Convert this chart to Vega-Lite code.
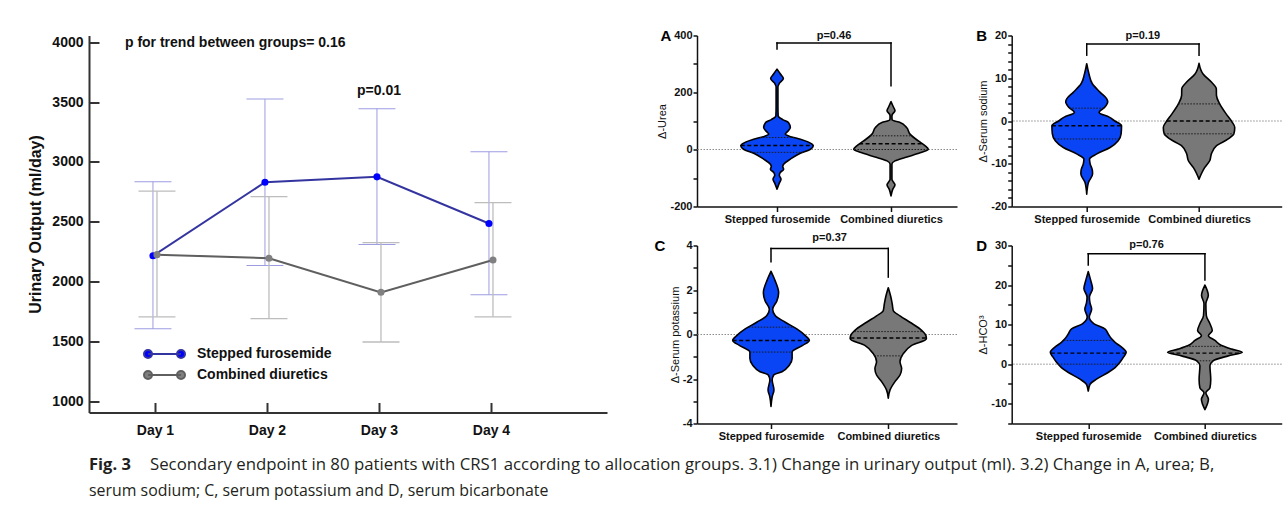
{
"$schema": "https://vega.github.io/schema/vega-lite/v6.json",
"background": "white",
"padding": {"left": 25, "top": 28.5, "right": 2, "bottom": 2},
"config": {"view": {"stroke": null}, "axis": {"grid": false, "labelFlush": false, "labelOverlap": false}},
"datasets": {
"uo": [
{"day":1,"group":"Stepped furosemide","mean":2215,"lo":1605,"hi":2835},
{"day":2,"group":"Stepped furosemide","mean":2830,"lo":2135,"hi":3525},
{"day":3,"group":"Stepped furosemide","mean":2875,"lo":2310,"hi":3445},
{"day":4,"group":"Stepped furosemide","mean":2485,"lo":1890,"hi":3085},
{"day":1,"group":"Combined diuretics","mean":2225,"lo":1705,"hi":2755},
{"day":2,"group":"Combined diuretics","mean":2195,"lo":1690,"hi":2710},
{"day":3,"group":"Combined diuretics","mean":1910,"lo":1495,"hi":2325},
{"day":4,"group":"Combined diuretics","mean":2180,"lo":1705,"hi":2660}
],
"violin": [
{"p":"A","g":"S","v":282,"lo":1,"hi":1},
{"p":"A","g":"S","v":265,"lo":0.97,"hi":1.03},
{"p":"A","g":"S","v":249,"lo":0.944,"hi":1.056},
{"p":"A","g":"S","v":232,"lo":0.98,"hi":1.02},
{"p":"A","g":"S","v":220,"lo":0.992,"hi":1.008},
{"p":"A","g":"S","v":150,"lo":0.992,"hi":1.008},
{"p":"A","g":"S","v":118,"lo":0.99,"hi":1.01},
{"p":"A","g":"S","v":105,"lo":0.95,"hi":1.05},
{"p":"A","g":"S","v":95,"lo":0.9,"hi":1.1},
{"p":"A","g":"S","v":77,"lo":0.883,"hi":1.117},
{"p":"A","g":"S","v":62,"lo":0.91,"hi":1.09},
{"p":"A","g":"S","v":54,"lo":0.927,"hi":1.073},
{"p":"A","g":"S","v":45,"lo":0.88,"hi":1.12},
{"p":"A","g":"S","v":36,"lo":0.795,"hi":1.205},
{"p":"A","g":"S","v":19,"lo":0.693,"hi":1.307},
{"p":"A","g":"S","v":13,"lo":0.682,"hi":1.318},
{"p":"A","g":"S","v":0,"lo":0.71,"hi":1.29},
{"p":"A","g":"S","v":-14,"lo":0.8,"hi":1.2},
{"p":"A","g":"S","v":-34,"lo":0.883,"hi":1.117},
{"p":"A","g":"S","v":-51,"lo":0.94,"hi":1.06},
{"p":"A","g":"S","v":-60,"lo":0.95,"hi":1.05},
{"p":"A","g":"S","v":-69,"lo":0.942,"hi":1.058},
{"p":"A","g":"S","v":-80,"lo":0.97,"hi":1.03},
{"p":"A","g":"S","v":-90,"lo":0.98,"hi":1.02},
{"p":"A","g":"S","v":-104,"lo":0.965,"hi":1.035},
{"p":"A","g":"S","v":-118,"lo":0.98,"hi":1.02},
{"p":"A","g":"S","v":-139,"lo":1,"hi":1},
{"p":"A","g":"C","v":168,"lo":2,"hi":2},
{"p":"A","g":"C","v":150,"lo":1.98,"hi":2.02},
{"p":"A","g":"C","v":136,"lo":1.965,"hi":2.035},
{"p":"A","g":"C","v":122,"lo":1.99,"hi":2.01},
{"p":"A","g":"C","v":115,"lo":1.992,"hi":2.008},
{"p":"A","g":"C","v":104,"lo":1.99,"hi":2.01},
{"p":"A","g":"C","v":95,"lo":1.92,"hi":2.08},
{"p":"A","g":"C","v":77,"lo":1.863,"hi":2.137},
{"p":"A","g":"C","v":54,"lo":1.833,"hi":2.167},
{"p":"A","g":"C","v":30,"lo":1.76,"hi":2.24},
{"p":"A","g":"C","v":13,"lo":1.7,"hi":2.3},
{"p":"A","g":"C","v":1,"lo":1.673,"hi":2.327},
{"p":"A","g":"C","v":-10,"lo":1.73,"hi":2.27},
{"p":"A","g":"C","v":-28,"lo":1.877,"hi":2.123},
{"p":"A","g":"C","v":-40,"lo":1.965,"hi":2.035},
{"p":"A","g":"C","v":-51,"lo":1.992,"hi":2.008},
{"p":"A","g":"C","v":-104,"lo":1.992,"hi":2.008},
{"p":"A","g":"C","v":-114,"lo":1.98,"hi":2.02},
{"p":"A","g":"C","v":-124,"lo":1.965,"hi":2.035},
{"p":"A","g":"C","v":-140,"lo":1.985,"hi":2.015},
{"p":"A","g":"C","v":-163,"lo":2,"hi":2},
{"p":"B","g":"S","v":13.4,"lo":1,"hi":1},
{"p":"B","g":"S","v":11,"lo":0.98,"hi":1.02},
{"p":"B","g":"S","v":8.7,"lo":0.95,"hi":1.05},
{"p":"B","g":"S","v":6.7,"lo":0.88,"hi":1.12},
{"p":"B","g":"S","v":5.2,"lo":0.822,"hi":1.178},
{"p":"B","g":"S","v":4.5,"lo":0.813,"hi":1.187},
{"p":"B","g":"S","v":3.2,"lo":0.84,"hi":1.16},
{"p":"B","g":"S","v":2.0,"lo":0.89,"hi":1.11},
{"p":"B","g":"S","v":0.9,"lo":0.8,"hi":1.2},
{"p":"B","g":"S","v":0,"lo":0.75,"hi":1.25},
{"p":"B","g":"S","v":-1.1,"lo":0.69,"hi":1.31},
{"p":"B","g":"S","v":-3,"lo":0.694,"hi":1.306},
{"p":"B","g":"S","v":-4.6,"lo":0.72,"hi":1.28},
{"p":"B","g":"S","v":-6.2,"lo":0.792,"hi":1.208},
{"p":"B","g":"S","v":-7.7,"lo":0.91,"hi":1.09},
{"p":"B","g":"S","v":-8.9,"lo":0.975,"hi":1.025},
{"p":"B","g":"S","v":-10,"lo":0.97,"hi":1.03},
{"p":"B","g":"S","v":-11.5,"lo":0.95,"hi":1.05},
{"p":"B","g":"S","v":-12.4,"lo":0.948,"hi":1.052},
{"p":"B","g":"S","v":-14.4,"lo":0.985,"hi":1.015},
{"p":"B","g":"S","v":-17.1,"lo":1,"hi":1},
{"p":"B","g":"C","v":13.5,"lo":2,"hi":2},
{"p":"B","g":"C","v":11,"lo":1.964,"hi":2.036},
{"p":"B","g":"C","v":9.1,"lo":1.89,"hi":2.11},
{"p":"B","g":"C","v":7.5,"lo":1.846,"hi":2.154},
{"p":"B","g":"C","v":6.0,"lo":1.845,"hi":2.155},
{"p":"B","g":"C","v":4.0,"lo":1.816,"hi":2.184},
{"p":"B","g":"C","v":1.6,"lo":1.757,"hi":2.243},
{"p":"B","g":"C","v":0,"lo":1.712,"hi":2.288},
{"p":"B","g":"C","v":-1.5,"lo":1.682,"hi":2.318},
{"p":"B","g":"C","v":-3,"lo":1.69,"hi":2.31},
{"p":"B","g":"C","v":-4.2,"lo":1.74,"hi":2.26},
{"p":"B","g":"C","v":-5.8,"lo":1.846,"hi":2.154},
{"p":"B","g":"C","v":-7.7,"lo":1.89,"hi":2.11},
{"p":"B","g":"C","v":-9.3,"lo":1.905,"hi":2.095},
{"p":"B","g":"C","v":-10.9,"lo":1.95,"hi":2.05},
{"p":"B","g":"C","v":-13.6,"lo":2,"hi":2},
{"p":"C","g":"S","v":2.84,"lo":1,"hi":1},
{"p":"C","g":"S","v":2.47,"lo":0.969,"hi":1.031},
{"p":"C","g":"S","v":1.88,"lo":0.935,"hi":1.065},
{"p":"C","g":"S","v":1.51,"lo":0.95,"hi":1.05},
{"p":"C","g":"S","v":1.14,"lo":0.986,"hi":1.014},
{"p":"C","g":"S","v":0.84,"lo":0.963,"hi":1.037},
{"p":"C","g":"S","v":0.55,"lo":0.878,"hi":1.122},
{"p":"C","g":"S","v":0.25,"lo":0.78,"hi":1.22},
{"p":"C","g":"S","v":-0.04,"lo":0.71,"hi":1.29},
{"p":"C","g":"S","v":-0.27,"lo":0.673,"hi":1.327},
{"p":"C","g":"S","v":-0.49,"lo":0.73,"hi":1.27},
{"p":"C","g":"S","v":-0.79,"lo":0.82,"hi":1.18},
{"p":"C","g":"S","v":-1.08,"lo":0.82,"hi":1.18},
{"p":"C","g":"S","v":-1.38,"lo":0.844,"hi":1.156},
{"p":"C","g":"S","v":-1.67,"lo":0.906,"hi":1.094},
{"p":"C","g":"S","v":-1.82,"lo":0.977,"hi":1.023},
{"p":"C","g":"S","v":-2.04,"lo":0.99,"hi":1.01},
{"p":"C","g":"S","v":-2.49,"lo":0.975,"hi":1.025},
{"p":"C","g":"S","v":-2.8,"lo":0.99,"hi":1.01},
{"p":"C","g":"S","v":-3.23,"lo":1,"hi":1},
{"p":"C","g":"C","v":2.1,"lo":2,"hi":2},
{"p":"C","g":"C","v":1.73,"lo":1.98,"hi":2.02},
{"p":"C","g":"C","v":1.36,"lo":1.966,"hi":2.034},
{"p":"C","g":"C","v":1.07,"lo":1.957,"hi":2.043},
{"p":"C","g":"C","v":0.84,"lo":1.9,"hi":2.1},
{"p":"C","g":"C","v":0.55,"lo":1.815,"hi":2.185},
{"p":"C","g":"C","v":0.25,"lo":1.73,"hi":2.27},
{"p":"C","g":"C","v":-0.04,"lo":1.68,"hi":2.32},
{"p":"C","g":"C","v":-0.19,"lo":1.675,"hi":2.325},
{"p":"C","g":"C","v":-0.49,"lo":1.8,"hi":2.2},
{"p":"C","g":"C","v":-0.86,"lo":1.872,"hi":2.128},
{"p":"C","g":"C","v":-1.23,"lo":1.9,"hi":2.1},
{"p":"C","g":"C","v":-1.53,"lo":1.886,"hi":2.114},
{"p":"C","g":"C","v":-1.82,"lo":1.9,"hi":2.1},
{"p":"C","g":"C","v":-2.12,"lo":1.943,"hi":2.057},
{"p":"C","g":"C","v":-2.49,"lo":1.985,"hi":2.015},
{"p":"C","g":"C","v":-2.86,"lo":2,"hi":2},
{"p":"D","g":"S","v":23.4,"lo":1,"hi":1},
{"p":"D","g":"S","v":21.3,"lo":0.98,"hi":1.02},
{"p":"D","g":"S","v":19.1,"lo":0.963,"hi":1.037},
{"p":"D","g":"S","v":17,"lo":0.99,"hi":1.01},
{"p":"D","g":"S","v":15.5,"lo":0.985,"hi":1.015},
{"p":"D","g":"S","v":13.9,"lo":0.971,"hi":1.029},
{"p":"D","g":"S","v":11.9,"lo":0.991,"hi":1.009},
{"p":"D","g":"S","v":10.2,"lo":0.95,"hi":1.05},
{"p":"D","g":"S","v":8.9,"lo":0.857,"hi":1.143},
{"p":"D","g":"S","v":7.7,"lo":0.83,"hi":1.17},
{"p":"D","g":"S","v":6.4,"lo":0.8,"hi":1.2},
{"p":"D","g":"S","v":5.5,"lo":0.77,"hi":1.23},
{"p":"D","g":"S","v":4.3,"lo":0.714,"hi":1.286},
{"p":"D","g":"S","v":3.0,"lo":0.675,"hi":1.325},
{"p":"D","g":"S","v":1.7,"lo":0.7,"hi":1.3},
{"p":"D","g":"S","v":0.4,"lo":0.73,"hi":1.27},
{"p":"D","g":"S","v":-0.85,"lo":0.77,"hi":1.23},
{"p":"D","g":"S","v":-2.1,"lo":0.83,"hi":1.17},
{"p":"D","g":"S","v":-3.8,"lo":0.93,"hi":1.07},
{"p":"D","g":"S","v":-5.1,"lo":0.985,"hi":1.015},
{"p":"D","g":"S","v":-6.8,"lo":1,"hi":1},
{"p":"D","g":"C","v":20,"lo":2,"hi":2},
{"p":"D","g":"C","v":17.4,"lo":1.971,"hi":2.029},
{"p":"D","g":"C","v":15.3,"lo":1.992,"hi":2.008},
{"p":"D","g":"C","v":12.3,"lo":1.988,"hi":2.012},
{"p":"D","g":"C","v":10.2,"lo":1.957,"hi":2.043},
{"p":"D","g":"C","v":8.5,"lo":1.937,"hi":2.063},
{"p":"D","g":"C","v":7.2,"lo":1.97,"hi":2.03},
{"p":"D","g":"C","v":6.0,"lo":1.914,"hi":2.086},
{"p":"D","g":"C","v":4.7,"lo":1.857,"hi":2.143},
{"p":"D","g":"C","v":3.8,"lo":1.77,"hi":2.23},
{"p":"D","g":"C","v":3.0,"lo":1.68,"hi":2.32},
{"p":"D","g":"C","v":2.1,"lo":1.8,"hi":2.2},
{"p":"D","g":"C","v":0.85,"lo":1.93,"hi":2.07},
{"p":"D","g":"C","v":-0.4,"lo":1.957,"hi":2.043},
{"p":"D","g":"C","v":-3.8,"lo":1.95,"hi":2.05},
{"p":"D","g":"C","v":-6.0,"lo":1.957,"hi":2.043},
{"p":"D","g":"C","v":-7.2,"lo":1.992,"hi":2.008},
{"p":"D","g":"C","v":-8.9,"lo":1.97,"hi":2.03},
{"p":"D","g":"C","v":-11.5,"lo":2,"hi":2}
],
"stats": [
{"p":"A","g":"S","s":"med","v":14,"lo":0.682,"hi":1.318},
{"p":"A","g":"S","s":"q","v":42,"lo":0.85,"hi":1.15},
{"p":"A","g":"S","s":"q","v":-10,"lo":0.77,"hi":1.23},
{"p":"A","g":"C","s":"med","v":20,"lo":1.72,"hi":2.28},
{"p":"A","g":"C","s":"q","v":48,"lo":1.815,"hi":2.185},
{"p":"A","g":"C","s":"q","v":0,"lo":1.68,"hi":2.32},
{"p":"B","g":"S","s":"med","v":-1.1,"lo":0.69,"hi":1.31},
{"p":"B","g":"S","s":"q","v":3.0,"lo":0.845,"hi":1.155},
{"p":"B","g":"S","s":"q","v":-4.2,"lo":0.715,"hi":1.285},
{"p":"B","g":"C","s":"med","v":0,"lo":1.712,"hi":2.288},
{"p":"B","g":"C","s":"q","v":4.0,"lo":1.816,"hi":2.184},
{"p":"B","g":"C","s":"q","v":-3.0,"lo":1.69,"hi":2.31},
{"p":"C","g":"S","s":"med","v":-0.27,"lo":0.673,"hi":1.327},
{"p":"C","g":"S","s":"q","v":0.33,"lo":0.81,"hi":1.19},
{"p":"C","g":"S","s":"q","v":-0.79,"lo":0.82,"hi":1.18},
{"p":"C","g":"C","s":"med","v":-0.16,"lo":1.677,"hi":2.323},
{"p":"C","g":"C","s":"q","v":0.13,"lo":1.71,"hi":2.29},
{"p":"C","g":"C","s":"q","v":-0.96,"lo":1.88,"hi":2.12},
{"p":"D","g":"S","s":"med","v":2.8,"lo":0.68,"hi":1.32},
{"p":"D","g":"S","s":"q","v":6.0,"lo":0.79,"hi":1.21},
{"p":"D","g":"S","s":"q","v":0,"lo":0.74,"hi":1.26},
{"p":"D","g":"C","s":"med","v":2.8,"lo":1.7,"hi":2.3},
{"p":"D","g":"C","s":"q","v":4.5,"lo":1.84,"hi":2.16},
{"p":"D","g":"C","s":"q","v":0.85,"lo":1.93,"hi":2.07}
],
"brackets": [
{"p":"A","top":374,"l":353,"r":224,"ty":400,"label":"p=0.46","letter":"A"},
{"p":"B","top":18,"l":15.4,"r":15.4,"ty":19.8,"label":"p=0.19","letter":"B"},
{"p":"C","top":3.87,"l":3.27,"r":2.58,"ty":4.34,"label":"p=0.37","letter":"C"},
{"p":"D","top":27.9,"l":25.1,"r":21.3,"ty":30.25,"label":"p=0.76","letter":"D"}
],
"caption": [
{"part":"fig","line":1,"t":"Fig. 3"},
{"part":"rest1","line":1,"t":"Secondary endpoint in 80 patients with CRS1 according to allocation groups. 3.1) Change in urinary output (ml). 3.2) Change in A, urea; B,"},
{"part":"rest2","line":2,"t":"serum sodium; C, serum potassium and D, serum bicarbonate"}
]
},
"spacing": 10,
"resolve": {"scale": {"color": "independent"}, "legend": {"color": "independent"}},
"vconcat": [
{
"spacing": 47,
"resolve": {"scale": {"color": "independent"}, "legend": {"color": "independent"}},
"hconcat": [
{
"width": 518, "height": 377,
"data": {"name": "uo"},
"layer": [
{"transform": [{"filter": "datum.group == 'Stepped furosemide'"}],
 "mark": {"type": "rule", "color": "#9d9de3", "strokeWidth": 1, "xOffset": -2},
 "encoding": {
  "x": {"field": "day", "type": "quantitative", "scale": {"domain": [0.411, 5.036], "nice": false, "zero": false},
        "axis": {"values": [1,2,3,4], "tickCount": 50, "labelExpr": "'Day ' + datum.value", "title": null, "tickSize": -10, "tickWidth": 2, "tickColor": "#333333", "domainWidth": 2, "domainColor": "#333333", "labelFont": "Liberation Sans", "labelFontWeight": "bold", "labelFontSize": 14, "labelColor": "#111111", "labelPadding": 21, "labelOverlap": false}},
  "y": {"field": "lo", "type": "quantitative", "scale": {"domain": [906, 4056], "nice": false, "zero": false},
        "axis": {"values": [1000,1500,2000,2500,3000,3500,4000], "tickCount": 50, "format": "d", "title": "Urinary Output (ml/day)", "tickSize": -10, "tickWidth": 2, "tickColor": "#333333", "domainWidth": 2, "domainColor": "#333333", "labelFont": "Liberation Sans", "labelFontWeight": "bold", "labelFontSize": 14, "labelColor": "#111111", "labelPadding": 16, "labelOverlap": false, "titleFont": "Liberation Sans", "titleFontWeight": "bold", "titleFontSize": 16, "titleColor": "#111111", "titlePadding": 8}},
  "y2": {"field": "hi"}}},
{"transform": [{"filter": "datum.group == 'Stepped furosemide'"}],
 "mark": {"type": "tick", "orient": "horizontal", "size": 37, "thickness": 1, "color": "#9d9de3", "opacity": 1, "xOffset": -2},
 "encoding": {"x": {"field": "day", "type": "quantitative"}, "y": {"field": "lo", "type": "quantitative"}}},
{"transform": [{"filter": "datum.group == 'Stepped furosemide'"}],
 "mark": {"type": "tick", "orient": "horizontal", "size": 37, "thickness": 1, "color": "#9d9de3", "opacity": 1, "xOffset": -2},
 "encoding": {"x": {"field": "day", "type": "quantitative"}, "y": {"field": "hi", "type": "quantitative"}}},
{"transform": [{"filter": "datum.group == 'Combined diuretics'"}],
 "mark": {"type": "rule", "color": "#bdbdbd", "strokeWidth": 1.3, "xOffset": 2},
 "encoding": {"x": {"field": "day", "type": "quantitative"}, "y": {"field": "lo", "type": "quantitative"}, "y2": {"field": "hi"}}},
{"transform": [{"filter": "datum.group == 'Combined diuretics'"}],
 "mark": {"type": "tick", "orient": "horizontal", "size": 37, "thickness": 1.3, "color": "#bdbdbd", "opacity": 1, "xOffset": 2},
 "encoding": {"x": {"field": "day", "type": "quantitative"}, "y": {"field": "lo", "type": "quantitative"}}},
{"transform": [{"filter": "datum.group == 'Combined diuretics'"}],
 "mark": {"type": "tick", "orient": "horizontal", "size": 37, "thickness": 1.3, "color": "#bdbdbd", "opacity": 1, "xOffset": 2},
 "encoding": {"x": {"field": "day", "type": "quantitative"}, "y": {"field": "hi", "type": "quantitative"}}},
{"transform": [{"filter": "datum.group == 'Stepped furosemide'"}],
 "mark": {"type": "line", "color": "#3434a0", "strokeWidth": 2, "xOffset": -2},
 "encoding": {"x": {"field": "day", "type": "quantitative"}, "y": {"field": "mean", "type": "quantitative"}}},
{"transform": [{"filter": "datum.group == 'Combined diuretics'"}],
 "mark": {"type": "line", "color": "#5f5f5f", "strokeWidth": 2, "xOffset": 2},
 "encoding": {"x": {"field": "day", "type": "quantitative"}, "y": {"field": "mean", "type": "quantitative"}}},
{"transform": [{"filter": "datum.group == 'Stepped furosemide'"}],
 "mark": {"type": "point", "filled": true, "size": 50, "opacity": 1, "xOffset": -2},
 "encoding": {"x": {"field": "day", "type": "quantitative"}, "y": {"field": "mean", "type": "quantitative"},
  "color": {"field": "group", "type": "nominal", "scale": {"domain": ["Stepped furosemide", "Combined diuretics"], "range": ["#0000ff", "#808080"]},
   "legend": {"title": null, "orient": "none", "legendX": 68.5, "legendY": 311.5, "padding": 0, "symbolType": "M-3.3,0L3.3,0M-2.5,0A0.8,0.8,0,1,1,-4.1,0A0.8,0.8,0,1,1,-2.5,0ZM4.1,0A0.8,0.8,0,1,1,2.5,0A0.8,0.8,0,1,1,4.1,0Z", "symbolSize": 100, "symbolStrokeWidth": 2, "symbolOpacity": 1, "labelFont": "Liberation Sans", "labelFontWeight": "bold", "labelFontSize": 14, "labelColor": "#111111", "labelOffset": 25.5, "rowPadding": 5, "labelLimit": 300,
     "encode": {"symbols": {"update": {"fill": {"signal": "datum.value == 'Stepped furosemide' ? '#0000ff' : '#808080'"}, "stroke": {"signal": "datum.value == 'Stepped furosemide' ? '#3434a0' : '#5f5f5f'"}}}}}}}},
{"transform": [{"filter": "datum.group == 'Combined diuretics'"}],
 "mark": {"type": "point", "filled": true, "size": 50, "opacity": 1, "xOffset": 2},
 "encoding": {"x": {"field": "day", "type": "quantitative"}, "y": {"field": "mean", "type": "quantitative"},
  "color": {"field": "group", "type": "nominal"}}},
{"data": {"values": [{"t": "p for trend between groups= 0.16"}]},
 "mark": {"type": "text", "align": "left", "baseline": "middle", "font": "Liberation Sans", "fontWeight": "bold", "fontSize": 14, "color": "#111111"},
 "encoding": {"x": {"datum": 0.732, "type": "quantitative"}, "y": {"datum": 3992, "type": "quantitative"}, "text": {"field": "t"}}},
{"data": {"values": [{"t": "p=0.01"}]},
 "mark": {"type": "text", "align": "center", "baseline": "middle", "font": "Liberation Sans", "fontWeight": "bold", "fontSize": 14, "color": "#111111"},
 "encoding": {"x": {"datum": 3, "type": "quantitative"}, "y": {"datum": 3590, "type": "quantitative"}, "text": {"field": "t"}}},
{"data": {"values": [{"t": " "}]},
 "mark": {"type": "text", "align": "left", "baseline": "middle", "font": "Liberation Sans", "fontWeight": "bold", "fontSize": 15, "opacity": 0, "dx": -64},
 "encoding": {"x": {"datum": 0.411, "type": "quantitative"}, "y": {"datum": 4056, "type": "quantitative"}, "text": {"field": "t"}}}
]
},
{
"bounds": "flush",
"columns": 2,
"spacing": {"row": 39, "column": 54.7},
"concat": [
{
"width": 260, "height": 171,
"layer": [
{"data": {"name": "brackets"}, "transform": [{"filter": "datum.p == 'A'"}],
 "mark": {"type": "rule", "color": "#8c8c8c", "strokeWidth": 1, "strokeDash": [1.5, 1.5]},
 "encoding": {"y": {"datum": 0, "type": "quantitative", "scale": {"domain": [-200, 400], "nice": false, "zero": false},
  "axis": {"values": [-200,-100,0,100,200,300,400], "tickCount": 50, "labelExpr": "datum.value % 200 === 0 ? '' + datum.value : ''", "labelOverlap": false, "title": "Δ-Urea", "titleFont": "Liberation Sans", "titleFontWeight": "normal", "titleFontSize": 11, "titleColor": "#111111", "titlePadding": 2, "labelFont": "Liberation Sans", "labelFontWeight": "bold", "labelFontSize": 11, "labelColor": "#111111", "labelPadding": 1, "tickSize": 4, "tickWidth": 1.5, "tickColor": "#111111", "domainColor": "#111111", "domainWidth": 1.5}}}},
{"data": {"name": "violin"}, "transform": [{"filter": "datum.p == 'A' && datum.g == 'S'"}],
 "mark": {"type": "area", "orient": "horizontal", "interpolate": "monotone", "fill": "#0a45f5", "stroke": "#000000", "strokeWidth": 1.6, "strokeJoin": "round", "opacity": 1},
 "encoding": {"y": {"field": "v", "type": "quantitative"},
  "x": {"field": "lo", "type": "quantitative", "scale": {"domain": [0.298, 2.579], "nice": false, "zero": false},
   "axis": {"values": [1, 2], "tickCount": 50, "labelExpr": "datum.value == 1 ? 'Stepped furosemide' : 'Combined diuretics'", "labelOverlap": false, "title": null, "labelFont": "Liberation Sans", "labelFontWeight": "bold", "labelFontSize": 11, "labelColor": "#111111", "labelPadding": 2, "tickSize": 5, "tickWidth": 1.5, "tickColor": "#111111", "domainColor": "#111111", "domainWidth": 1.5}},
  "x2": {"field": "hi"}}},
{"data": {"name": "violin"}, "transform": [{"filter": "datum.p == 'A' && datum.g == 'C'"}],
 "mark": {"type": "area", "orient": "horizontal", "interpolate": "monotone", "fill": "#787878", "stroke": "#000000", "strokeWidth": 1.6, "strokeJoin": "round", "opacity": 1},
 "encoding": {"y": {"field": "v", "type": "quantitative"}, "x": {"field": "lo", "type": "quantitative"}, "x2": {"field": "hi"}}},
{"data": {"name": "stats"}, "transform": [{"filter": "datum.p == 'A' && datum.s == 'med'"}],
 "mark": {"type": "rule", "color": "#000000", "strokeWidth": 1.4, "strokeDash": [4, 2.5]},
 "encoding": {"y": {"field": "v", "type": "quantitative"}, "x": {"field": "lo", "type": "quantitative"}, "x2": {"field": "hi"}}},
{"data": {"name": "stats"}, "transform": [{"filter": "datum.p == 'A' && datum.s == 'q'"}],
 "mark": {"type": "rule", "color": "#1a1a1a", "strokeWidth": 1, "strokeDash": [1.5, 1.5]},
 "encoding": {"y": {"field": "v", "type": "quantitative"}, "x": {"field": "lo", "type": "quantitative"}, "x2": {"field": "hi"}}},
{"data": {"name": "brackets"}, "transform": [{"filter": "datum.p == 'A'"}],
 "mark": {"type": "rule", "color": "#000000", "strokeWidth": 1.5, "strokeCap": "square"},
 "encoding": {"x": {"datum": 1, "type": "quantitative"}, "x2": {"datum": 2}, "y": {"field": "top", "type": "quantitative"}}},
{"data": {"name": "brackets"}, "transform": [{"filter": "datum.p == 'A'"}],
 "mark": {"type": "rule", "color": "#000000", "strokeWidth": 1.5, "strokeCap": "square"},
 "encoding": {"x": {"datum": 1, "type": "quantitative"}, "y": {"field": "top", "type": "quantitative"}, "y2": {"field": "l"}}},
{"data": {"name": "brackets"}, "transform": [{"filter": "datum.p == 'A'"}],
 "mark": {"type": "rule", "color": "#000000", "strokeWidth": 1.5, "strokeCap": "square"},
 "encoding": {"x": {"datum": 2, "type": "quantitative"}, "y": {"field": "top", "type": "quantitative"}, "y2": {"field": "r"}}},
{"data": {"name": "brackets"}, "transform": [{"filter": "datum.p == 'A'"}],
 "mark": {"type": "text", "font": "Liberation Sans", "fontWeight": "bold", "fontSize": 11, "baseline": "middle", "align": "center", "color": "#111111"},
 "encoding": {"x": {"datum": 1.5, "type": "quantitative"}, "y": {"field": "ty", "type": "quantitative"}, "text": {"field": "label"}}},
{"data": {"name": "brackets"}, "transform": [{"filter": "datum.p == 'A'"}],
 "mark": {"type": "text", "font": "Liberation Sans", "fontWeight": "bold", "fontSize": 15, "baseline": "middle", "align": "center", "color": "#000000", "dx": -31},
 "encoding": {"x": {"datum": 0.298, "type": "quantitative"}, "y": {"datum": 400, "type": "quantitative"}, "text": {"field": "letter"}}}
]
},
{
"width": 270, "height": 171,
"layer": [
{"data": {"name": "brackets"}, "transform": [{"filter": "datum.p == 'B'"}],
 "mark": {"type": "rule", "color": "#8c8c8c", "strokeWidth": 1, "strokeDash": [1.5, 1.5]},
 "encoding": {"y": {"datum": 0, "type": "quantitative", "scale": {"domain": [-20, 20], "nice": false, "zero": false},
  "axis": {"values": [-20,-18,-16,-14,-12,-10,-8,-6,-4,-2,0,2,4,6,8,10,12,14,16,18,20], "tickCount": 50, "labelExpr": "datum.value % 10 === 0 ? '' + datum.value : ''", "labelOverlap": false, "title": "Δ-Serum sodium", "titleFont": "Liberation Sans", "titleFontWeight": "normal", "titleFontSize": 11, "titleColor": "#111111", "titlePadding": 2, "labelFont": "Liberation Sans", "labelFontWeight": "bold", "labelFontSize": 11, "labelColor": "#111111", "labelPadding": 1, "tickSize": 4, "tickWidth": 1.5, "tickColor": "#111111", "domainColor": "#111111", "domainWidth": 1.5}}}},
{"data": {"name": "violin"}, "transform": [{"filter": "datum.p == 'B' && datum.g == 'S'"}],
 "mark": {"type": "area", "orient": "horizontal", "interpolate": "monotone", "fill": "#0a45f5", "stroke": "#000000", "strokeWidth": 1.6, "strokeJoin": "round", "opacity": 1},
 "encoding": {"y": {"field": "v", "type": "quantitative"},
  "x": {"field": "lo", "type": "quantitative", "scale": {"domain": [0.332, 2.736], "nice": false, "zero": false},
   "axis": {"values": [1, 2], "tickCount": 50, "labelExpr": "datum.value == 1 ? 'Stepped furosemide' : 'Combined diuretics'", "labelOverlap": false, "title": null, "labelFont": "Liberation Sans", "labelFontWeight": "bold", "labelFontSize": 11, "labelColor": "#111111", "labelPadding": 2, "tickSize": 5, "tickWidth": 1.5, "tickColor": "#111111", "domainColor": "#111111", "domainWidth": 1.5}},
  "x2": {"field": "hi"}}},
{"data": {"name": "violin"}, "transform": [{"filter": "datum.p == 'B' && datum.g == 'C'"}],
 "mark": {"type": "area", "orient": "horizontal", "interpolate": "monotone", "fill": "#787878", "stroke": "#000000", "strokeWidth": 1.6, "strokeJoin": "round", "opacity": 1},
 "encoding": {"y": {"field": "v", "type": "quantitative"}, "x": {"field": "lo", "type": "quantitative"}, "x2": {"field": "hi"}}},
{"data": {"name": "stats"}, "transform": [{"filter": "datum.p == 'B' && datum.s == 'med'"}],
 "mark": {"type": "rule", "color": "#000000", "strokeWidth": 1.4, "strokeDash": [4, 2.5]},
 "encoding": {"y": {"field": "v", "type": "quantitative"}, "x": {"field": "lo", "type": "quantitative"}, "x2": {"field": "hi"}}},
{"data": {"name": "stats"}, "transform": [{"filter": "datum.p == 'B' && datum.s == 'q'"}],
 "mark": {"type": "rule", "color": "#1a1a1a", "strokeWidth": 1, "strokeDash": [1.5, 1.5]},
 "encoding": {"y": {"field": "v", "type": "quantitative"}, "x": {"field": "lo", "type": "quantitative"}, "x2": {"field": "hi"}}},
{"data": {"name": "brackets"}, "transform": [{"filter": "datum.p == 'B'"}],
 "mark": {"type": "rule", "color": "#000000", "strokeWidth": 1.5, "strokeCap": "square"},
 "encoding": {"x": {"datum": 1, "type": "quantitative"}, "x2": {"datum": 2}, "y": {"field": "top", "type": "quantitative"}}},
{"data": {"name": "brackets"}, "transform": [{"filter": "datum.p == 'B'"}],
 "mark": {"type": "rule", "color": "#000000", "strokeWidth": 1.5, "strokeCap": "square"},
 "encoding": {"x": {"datum": 1, "type": "quantitative"}, "y": {"field": "top", "type": "quantitative"}, "y2": {"field": "l"}}},
{"data": {"name": "brackets"}, "transform": [{"filter": "datum.p == 'B'"}],
 "mark": {"type": "rule", "color": "#000000", "strokeWidth": 1.5, "strokeCap": "square"},
 "encoding": {"x": {"datum": 2, "type": "quantitative"}, "y": {"field": "top", "type": "quantitative"}, "y2": {"field": "r"}}},
{"data": {"name": "brackets"}, "transform": [{"filter": "datum.p == 'B'"}],
 "mark": {"type": "text", "font": "Liberation Sans", "fontWeight": "bold", "fontSize": 11, "baseline": "middle", "align": "center", "color": "#111111"},
 "encoding": {"x": {"datum": 1.5, "type": "quantitative"}, "y": {"field": "ty", "type": "quantitative"}, "text": {"field": "label"}}},
{"data": {"name": "brackets"}, "transform": [{"filter": "datum.p == 'B'"}],
 "mark": {"type": "text", "font": "Liberation Sans", "fontWeight": "bold", "fontSize": 15, "baseline": "middle", "align": "center", "color": "#000000", "dx": -30},
 "encoding": {"x": {"datum": 0.332, "type": "quantitative"}, "y": {"datum": 20, "type": "quantitative"}, "text": {"field": "letter"}}}
]
},
{
"width": 260, "height": 178,
"layer": [
{"data": {"name": "brackets"}, "transform": [{"filter": "datum.p == 'C'"}],
 "mark": {"type": "rule", "color": "#8c8c8c", "strokeWidth": 1, "strokeDash": [1.5, 1.5]},
 "encoding": {"y": {"datum": 0, "type": "quantitative", "scale": {"domain": [-4, 4], "nice": false, "zero": false},
  "axis": {"values": [-4,-3,-2,-1,0,1,2,3,4], "tickCount": 50, "labelExpr": "datum.value % 2 === 0 ? '' + datum.value : ''", "labelOverlap": false, "title": "Δ-Serum potassium", "titleFont": "Liberation Sans", "titleFontWeight": "normal", "titleFontSize": 11, "titleColor": "#111111", "titlePadding": 2, "labelFont": "Liberation Sans", "labelFontWeight": "bold", "labelFontSize": 11, "labelColor": "#111111", "labelPadding": 1, "tickSize": 4, "tickWidth": 1.5, "tickColor": "#111111", "domainColor": "#111111", "domainWidth": 1.5}}}},
{"data": {"name": "violin"}, "transform": [{"filter": "datum.p == 'C' && datum.g == 'S'"}],
 "mark": {"type": "area", "orient": "horizontal", "interpolate": "monotone", "fill": "#0a45f5", "stroke": "#000000", "strokeWidth": 1.6, "strokeJoin": "round", "opacity": 1},
 "encoding": {"y": {"field": "v", "type": "quantitative"},
  "x": {"field": "lo", "type": "quantitative", "scale": {"domain": [0.369, 2.586], "nice": false, "zero": false},
   "axis": {"values": [1, 2], "tickCount": 50, "labelExpr": "datum.value == 1 ? 'Stepped furosemide' : 'Combined diuretics'", "labelOverlap": false, "title": null, "labelFont": "Liberation Sans", "labelFontWeight": "bold", "labelFontSize": 11, "labelColor": "#111111", "labelPadding": 2, "tickSize": 5, "tickWidth": 1.5, "tickColor": "#111111", "domainColor": "#111111", "domainWidth": 1.5}},
  "x2": {"field": "hi"}}},
{"data": {"name": "violin"}, "transform": [{"filter": "datum.p == 'C' && datum.g == 'C'"}],
 "mark": {"type": "area", "orient": "horizontal", "interpolate": "monotone", "fill": "#787878", "stroke": "#000000", "strokeWidth": 1.6, "strokeJoin": "round", "opacity": 1},
 "encoding": {"y": {"field": "v", "type": "quantitative"}, "x": {"field": "lo", "type": "quantitative"}, "x2": {"field": "hi"}}},
{"data": {"name": "stats"}, "transform": [{"filter": "datum.p == 'C' && datum.s == 'med'"}],
 "mark": {"type": "rule", "color": "#000000", "strokeWidth": 1.4, "strokeDash": [4, 2.5]},
 "encoding": {"y": {"field": "v", "type": "quantitative"}, "x": {"field": "lo", "type": "quantitative"}, "x2": {"field": "hi"}}},
{"data": {"name": "stats"}, "transform": [{"filter": "datum.p == 'C' && datum.s == 'q'"}],
 "mark": {"type": "rule", "color": "#1a1a1a", "strokeWidth": 1, "strokeDash": [1.5, 1.5]},
 "encoding": {"y": {"field": "v", "type": "quantitative"}, "x": {"field": "lo", "type": "quantitative"}, "x2": {"field": "hi"}}},
{"data": {"name": "brackets"}, "transform": [{"filter": "datum.p == 'C'"}],
 "mark": {"type": "rule", "color": "#000000", "strokeWidth": 1.5, "strokeCap": "square"},
 "encoding": {"x": {"datum": 1, "type": "quantitative"}, "x2": {"datum": 2}, "y": {"field": "top", "type": "quantitative"}}},
{"data": {"name": "brackets"}, "transform": [{"filter": "datum.p == 'C'"}],
 "mark": {"type": "rule", "color": "#000000", "strokeWidth": 1.5, "strokeCap": "square"},
 "encoding": {"x": {"datum": 1, "type": "quantitative"}, "y": {"field": "top", "type": "quantitative"}, "y2": {"field": "l"}}},
{"data": {"name": "brackets"}, "transform": [{"filter": "datum.p == 'C'"}],
 "mark": {"type": "rule", "color": "#000000", "strokeWidth": 1.5, "strokeCap": "square"},
 "encoding": {"x": {"datum": 2, "type": "quantitative"}, "y": {"field": "top", "type": "quantitative"}, "y2": {"field": "r"}}},
{"data": {"name": "brackets"}, "transform": [{"filter": "datum.p == 'C'"}],
 "mark": {"type": "text", "font": "Liberation Sans", "fontWeight": "bold", "fontSize": 11, "baseline": "middle", "align": "center", "color": "#111111"},
 "encoding": {"x": {"datum": 1.5, "type": "quantitative"}, "y": {"field": "ty", "type": "quantitative"}, "text": {"field": "label"}}},
{"data": {"name": "brackets"}, "transform": [{"filter": "datum.p == 'C'"}],
 "mark": {"type": "text", "font": "Liberation Sans", "fontWeight": "bold", "fontSize": 15, "baseline": "middle", "align": "center", "color": "#000000", "dx": -37},
 "encoding": {"x": {"datum": 0.369, "type": "quantitative"}, "y": {"datum": 4, "type": "quantitative"}, "text": {"field": "letter"}}}
]
},
{
"width": 270, "height": 178,
"layer": [
{"data": {"name": "brackets"}, "transform": [{"filter": "datum.p == 'D'"}],
 "mark": {"type": "rule", "color": "#8c8c8c", "strokeWidth": 1, "strokeDash": [1.5, 1.5]},
 "encoding": {"y": {"datum": 0, "type": "quantitative", "scale": {"domain": [-15, 30], "nice": false, "zero": false},
  "axis": {"values": [-15,-10,-5,0,5,10,15,20,25,30], "tickCount": 50, "labelExpr": "datum.value % 10 === 0 ? '' + datum.value : ''", "labelOverlap": false, "title": "Δ-HCO³", "titleFont": "Liberation Sans", "titleFontWeight": "normal", "titleFontSize": 11, "titleColor": "#111111", "titlePadding": 2, "labelFont": "Liberation Sans", "labelFontWeight": "bold", "labelFontSize": 11, "labelColor": "#111111", "labelPadding": 1, "tickSize": 4, "tickWidth": 1.5, "tickColor": "#111111", "domainColor": "#111111", "domainWidth": 1.5}}}},
{"data": {"name": "violin"}, "transform": [{"filter": "datum.p == 'D' && datum.g == 'S'"}],
 "mark": {"type": "area", "orient": "horizontal", "interpolate": "monotone", "fill": "#0a45f5", "stroke": "#000000", "strokeWidth": 1.6, "strokeJoin": "round", "opacity": 1},
 "encoding": {"y": {"field": "v", "type": "quantitative"},
  "x": {"field": "lo", "type": "quantitative", "scale": {"domain": [0.344, 2.658], "nice": false, "zero": false},
   "axis": {"values": [1, 2], "tickCount": 50, "labelExpr": "datum.value == 1 ? 'Stepped furosemide' : 'Combined diuretics'", "labelOverlap": false, "title": null, "labelFont": "Liberation Sans", "labelFontWeight": "bold", "labelFontSize": 11, "labelColor": "#111111", "labelPadding": 2, "tickSize": 5, "tickWidth": 1.5, "tickColor": "#111111", "domainColor": "#111111", "domainWidth": 1.5}},
  "x2": {"field": "hi"}}},
{"data": {"name": "violin"}, "transform": [{"filter": "datum.p == 'D' && datum.g == 'C'"}],
 "mark": {"type": "area", "orient": "horizontal", "interpolate": "monotone", "fill": "#787878", "stroke": "#000000", "strokeWidth": 1.6, "strokeJoin": "round", "opacity": 1},
 "encoding": {"y": {"field": "v", "type": "quantitative"}, "x": {"field": "lo", "type": "quantitative"}, "x2": {"field": "hi"}}},
{"data": {"name": "stats"}, "transform": [{"filter": "datum.p == 'D' && datum.s == 'med'"}],
 "mark": {"type": "rule", "color": "#000000", "strokeWidth": 1.4, "strokeDash": [4, 2.5]},
 "encoding": {"y": {"field": "v", "type": "quantitative"}, "x": {"field": "lo", "type": "quantitative"}, "x2": {"field": "hi"}}},
{"data": {"name": "stats"}, "transform": [{"filter": "datum.p == 'D' && datum.s == 'q'"}],
 "mark": {"type": "rule", "color": "#1a1a1a", "strokeWidth": 1, "strokeDash": [1.5, 1.5]},
 "encoding": {"y": {"field": "v", "type": "quantitative"}, "x": {"field": "lo", "type": "quantitative"}, "x2": {"field": "hi"}}},
{"data": {"name": "brackets"}, "transform": [{"filter": "datum.p == 'D'"}],
 "mark": {"type": "rule", "color": "#000000", "strokeWidth": 1.5, "strokeCap": "square"},
 "encoding": {"x": {"datum": 1, "type": "quantitative"}, "x2": {"datum": 2}, "y": {"field": "top", "type": "quantitative"}}},
{"data": {"name": "brackets"}, "transform": [{"filter": "datum.p == 'D'"}],
 "mark": {"type": "rule", "color": "#000000", "strokeWidth": 1.5, "strokeCap": "square"},
 "encoding": {"x": {"datum": 1, "type": "quantitative"}, "y": {"field": "top", "type": "quantitative"}, "y2": {"field": "l"}}},
{"data": {"name": "brackets"}, "transform": [{"filter": "datum.p == 'D'"}],
 "mark": {"type": "rule", "color": "#000000", "strokeWidth": 1.5, "strokeCap": "square"},
 "encoding": {"x": {"datum": 2, "type": "quantitative"}, "y": {"field": "top", "type": "quantitative"}, "y2": {"field": "r"}}},
{"data": {"name": "brackets"}, "transform": [{"filter": "datum.p == 'D'"}],
 "mark": {"type": "text", "font": "Liberation Sans", "fontWeight": "bold", "fontSize": 11, "baseline": "middle", "align": "center", "color": "#111111"},
 "encoding": {"x": {"datum": 1.5, "type": "quantitative"}, "y": {"field": "ty", "type": "quantitative"}, "text": {"field": "label"}}},
{"data": {"name": "brackets"}, "transform": [{"filter": "datum.p == 'D'"}],
 "mark": {"type": "text", "font": "Liberation Sans", "fontWeight": "bold", "fontSize": 15, "baseline": "middle", "align": "center", "color": "#000000", "dx": -30},
 "encoding": {"x": {"datum": 0.344, "type": "quantitative"}, "y": {"datum": 30, "type": "quantitative"}, "text": {"field": "letter"}}}
]
}
]
}
]
},
{
"width": 1193, "height": 52,
"data": {"name": "caption"},
"layer": [
{"transform": [{"filter": "datum.part == 'fig'"}],
 "mark": {"type": "text", "align": "left", "baseline": "middle", "font": "Open Sans", "fontSize": 16.5, "fontWeight": "bold", "color": "#231f20"},
 "encoding": {"x": {"datum": 0, "type": "quantitative", "scale": {"domain": [0, 1]}, "axis": null}, "y": {"field": "line", "type": "ordinal", "scale": {"domain": [1, 2], "padding": 0.5}, "axis": null}, "text": {"field": "t"}}},
{"transform": [{"filter": "datum.part == 'rest1'"}],
 "mark": {"type": "text", "align": "left", "baseline": "middle", "font": "Open Sans", "fontSize": 16.8, "color": "#231f20", "dx": 61},
 "encoding": {"x": {"datum": 0, "type": "quantitative", "axis": null}, "y": {"field": "line", "type": "ordinal", "axis": null}, "text": {"field": "t"}}},
{"transform": [{"filter": "datum.part == 'rest2'"}],
 "mark": {"type": "text", "align": "left", "baseline": "middle", "font": "Open Sans", "fontSize": 15.9, "color": "#231f20"},
 "encoding": {"x": {"datum": 0, "type": "quantitative", "axis": null}, "y": {"field": "line", "type": "ordinal", "axis": null}, "text": {"field": "t"}}}
]
}
]
}
